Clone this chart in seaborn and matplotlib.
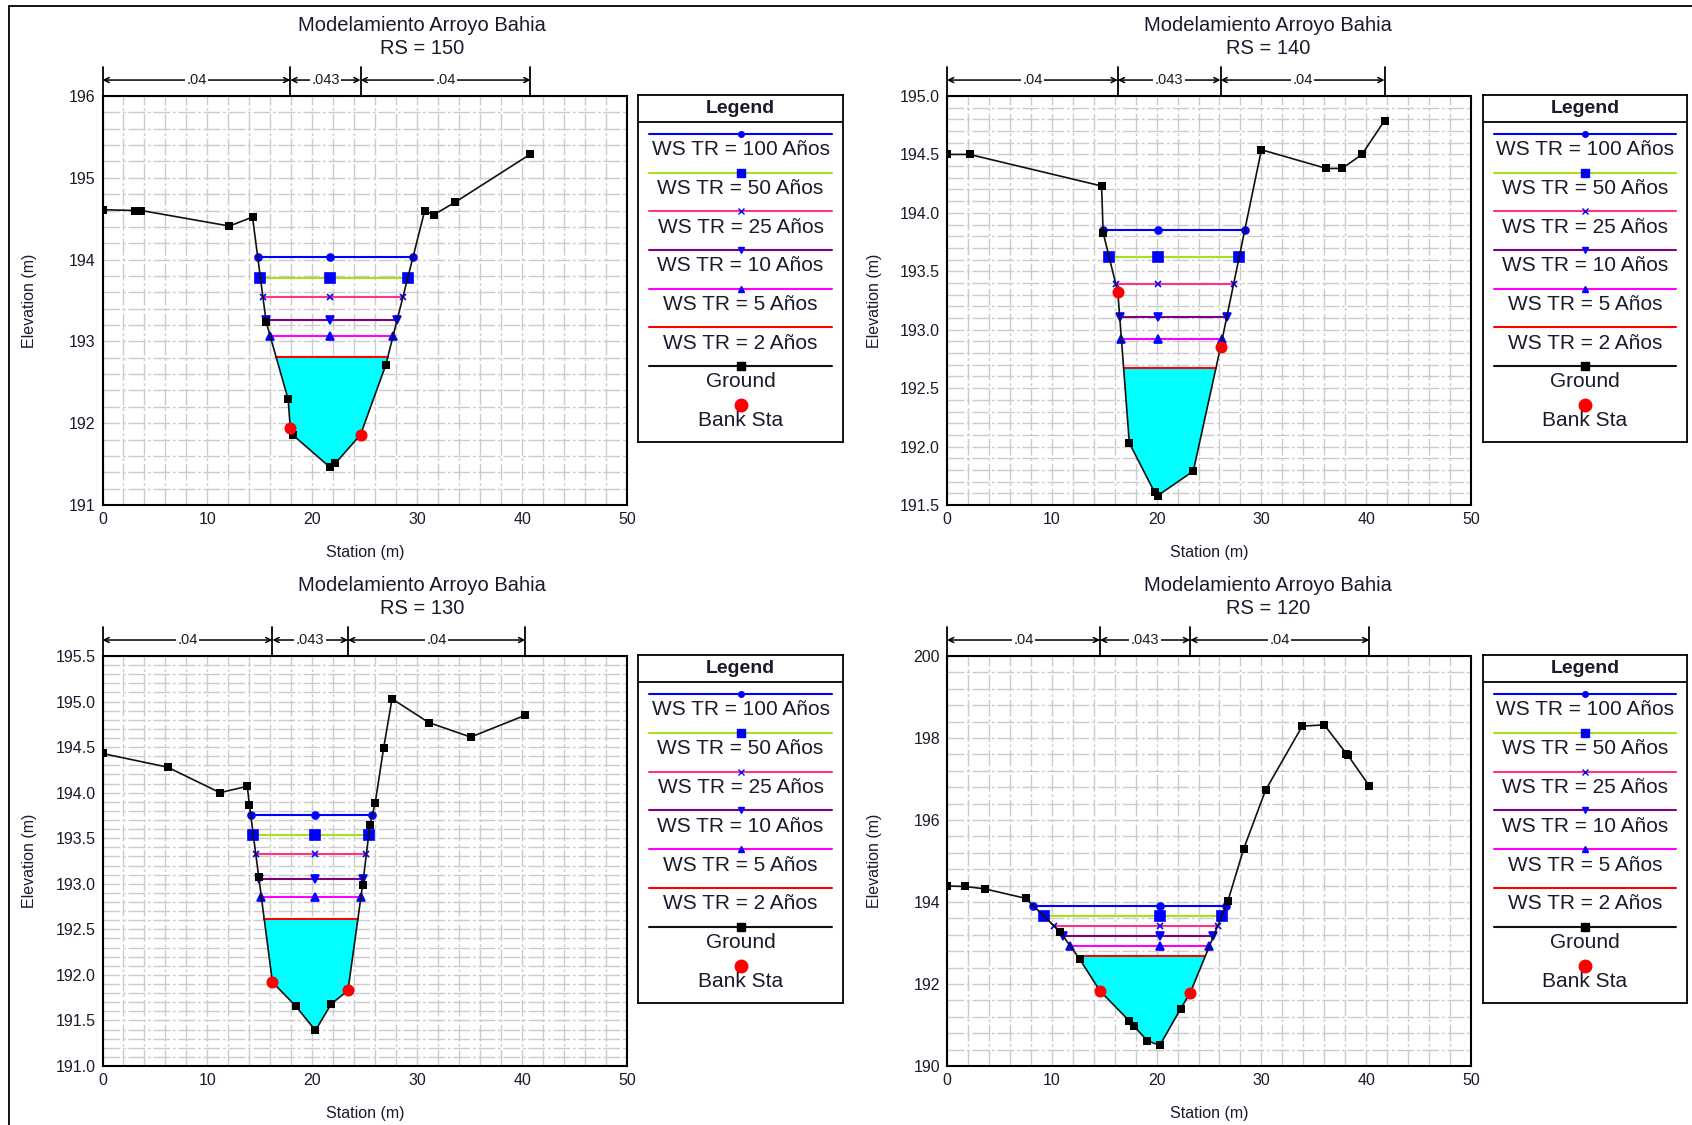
import numpy as np
import matplotlib
matplotlib.use("Agg")
import matplotlib.pyplot as plt
import matplotlib.ticker as mticker
from matplotlib.lines import Line2D
import seaborn as sns

TITLE = "Modelamiento Arroyo Bahia"
RS = [150, 140, 130, 120]
MANNING_N = [".04", ".043", ".04"]

PROFILES = ["WS TR = 100 Años", "WS TR = 50 Años", "WS TR = 25 Años",
            "WS TR = 10 Años", "WS TR = 5 Años", "WS TR = 2 Años"]

# ground points per section (bank stations included)
STA_150 = [0, 3.1, 3.7, 12.1, 14.3, 15.6, 17.7, 17.9, 18.2, 21.7, 22.2, 24.6,
           27.0, 30.7, 31.6, 33.6, 40.8]
ELEV_150 = [194.61, 194.60, 194.60, 194.41, 194.52, 193.24, 192.29, 191.94,
            191.85, 191.46, 191.51, 191.86, 192.71, 194.59, 194.55, 194.70, 195.29]
BANK_STA_150 = [17.9, 24.6]
BANK_ELEV_150 = [191.94, 191.86]
WS_150 = [194.03, 193.78, 193.54, 193.26, 193.06, 192.81]

STA_140 = [0, 2.15, 14.75, 14.9, 16.3, 17.4, 19.8, 20.1, 23.5, 26.1, 30.0,
           36.2, 37.7, 39.6, 41.75]
ELEV_140 = [194.50, 194.50, 194.23, 193.83, 193.32, 192.03, 191.61, 191.58,
            191.79, 192.85, 194.54, 194.38, 194.38, 194.50, 194.79]
BANK_STA_140 = [16.3, 26.1]
BANK_ELEV_140 = [193.32, 192.85]
WS_140 = [193.85, 193.62, 193.39, 193.11, 192.92, 192.67]

STA_130 = [0, 6.2, 11.2, 13.8, 14.0, 14.9, 16.2, 18.4, 20.3, 21.8, 23.4, 24.8,
           25.5, 26.0, 26.8, 27.6, 31.1, 35.1, 40.3]
ELEV_130 = [194.43, 194.28, 194.00, 194.07, 193.87, 193.07, 191.92, 191.66,
            191.39, 191.68, 191.83, 192.99, 193.65, 193.89, 194.49, 195.03,
            194.77, 194.61, 194.85]
BANK_STA_130 = [16.2, 23.4]
BANK_ELEV_130 = [191.92, 191.83]
WS_130 = [193.76, 193.54, 193.33, 193.05, 192.86, 192.61]

STA_120 = [0, 1.7, 3.6, 7.5, 10.8, 12.65, 14.6, 17.4, 17.85, 19.1, 20.3, 22.3,
           23.2, 26.8, 28.3, 30.4, 33.9, 36.0, 38.1, 38.25, 40.3]
ELEV_120 = [194.39, 194.38, 194.32, 194.09, 193.27, 192.61, 191.83, 191.10,
            190.97, 190.62, 190.50, 191.40, 191.78, 194.02, 195.29, 196.73,
            198.29, 198.32, 197.62, 197.58, 196.83]
BANK_STA_120 = [14.6, 23.2]
BANK_ELEV_120 = [191.83, 191.78]
WS_120 = [193.91, 193.65, 193.42, 193.16, 192.92, 192.69]

# y axis ranges and label step of each section
Y_RANGE = [(191, 196, 1), (191.5, 195.0, 0.5), (191.0, 195.5, 0.5), (190, 200, 2)]

SECTIONS = [
    (STA_150, ELEV_150, BANK_STA_150, BANK_ELEV_150, WS_150),
    (STA_140, ELEV_140, BANK_STA_140, BANK_ELEV_140, WS_140),
    (STA_130, ELEV_130, BANK_STA_130, BANK_ELEV_130, WS_130),
    (STA_120, ELEV_120, BANK_STA_120, BANK_ELEV_120, WS_120),
]

WS_COLORS = ["#0000ff", "#a8e020", "#ff3388", "#800080", "#ff00ff", "#ff0000"]
WS_MARKERS = ["o", "s", "x", "v", "^", None]
WS_MSIZE = [5, 7, 5, 6, 6, 0]
MARK_BLUE = "#0000ff"
TXT = "#1a1a2a"

sns.set_style("white")
plt.rcParams["font.family"] = ["Liberation Sans", "DejaVu Sans"]

W, H = 1692, 1125
fig = plt.figure(figsize=(W / 100, H / 100), dpi=100)


def px_axes(left, top, right, bottom):
    return fig.add_axes([left / W, 1 - bottom / H, (right - left) / W, (bottom - top) / H])


def crossings(sta, elev, level):
    sta = np.asarray(sta, float)
    elev = np.asarray(elev, float)
    imin = int(np.argmin(elev))
    i = imin
    while elev[i] < level:
        i -= 1
    xl = np.interp(level, [elev[i + 1], elev[i]], [sta[i + 1], sta[i]])
    j = imin
    while elev[j] < level:
        j += 1
    xr = np.interp(level, [elev[j - 1], elev[j]], [sta[j - 1], sta[j]])
    return xl, xr, i, j, sta[imin]


AX_BOX = [(102.5, 96, 627, 505), (947, 96, 1471, 505),
          (102.5, 656, 627, 1066), (947, 656, 1471, 1066)]
LEG_BOX = [(638, 95, 843, 442), (1483, 95, 1687, 442),
           (638, 655, 843, 1003), (1483, 655, 1687, 1003)]
TITLE_POS = [(422, 37), (1268, 37), (422, 597), (1268, 597)]

grid_ls = (0, (12, 2, 2, 2))

for k, (sta, elev, bsta, belev, ws) in enumerate(SECTIONS):
    ax = px_axes(*AX_BOX[k])
    y0, y1, ystep = Y_RANGE[k]

    # water fill for the lowest profile
    xl, xr, i, j, thalweg = crossings(sta, elev, ws[-1])
    poly_x = [xl] + list(sta[i + 1:j]) + [xr]
    poly_y = [ws[-1]] + list(elev[i + 1:j]) + [ws[-1]]
    ax.fill(poly_x, poly_y, color="#00ffff", lw=0, zorder=2)

    for p in range(len(PROFILES)):
        xl, xr, _, _, thalweg = crossings(sta, elev, ws[p])
        xs = [xl, thalweg, xr]
        ys = [ws[p]] * 3
        sns.lineplot(x=xs, y=ys, ax=ax, color=WS_COLORS[p], lw=1.5, sort=False,
                     estimator=None, zorder=3)
        if WS_MARKERS[p]:
            ax.plot(xs, ys, ls="none", marker=WS_MARKERS[p], ms=WS_MSIZE[p],
                    color=MARK_BLUE, mew=1.2, zorder=4)

    sns.lineplot(x=sta, y=elev, ax=ax, color="#111111", lw=1.2, sort=False,
                 estimator=None, marker="s", markersize=6, markeredgewidth=0,
                 markerfacecolor="black", zorder=5)
    sns.scatterplot(x=bsta, y=belev, ax=ax, color="#ff0000", s=75, linewidth=0,
                    zorder=6)

    ax.set_xlim(0, 50)
    ax.set_ylim(y0, y1)
    ax.xaxis.set_major_locator(mticker.MultipleLocator(10))
    ax.xaxis.set_minor_locator(mticker.MultipleLocator(2))
    ax.yaxis.set_major_locator(mticker.MultipleLocator(ystep))
    ax.yaxis.set_minor_locator(mticker.MultipleLocator(ystep / 5))
    fmt = "%.0f" if ystep >= 1 else "%.1f"
    ax.yaxis.set_major_formatter(mticker.FormatStrFormatter(fmt))
    ax.grid(which="both", color="#cbcbcb", ls=grid_ls, lw=1.0, zorder=0)
    ax.set_axisbelow(True)
    ax.tick_params(which="both", direction="out", length=4, width=1,
                   colors="black", labelcolor=TXT, labelsize=11.5, pad=1)
    for s in ax.spines.values():
        s.set_color("black")
        s.set_linewidth(1.5)

    ax.set_xlabel("Station (m)", fontsize=11.5, color=TXT)
    ax.set_ylabel("Elevation (m)", fontsize=11.5, color=TXT)
    ax.xaxis.set_label_coords(0.5, -0.098)
    ax.yaxis.set_label_coords(-0.125, 0.5)

    # manning n bracket above the plot
    trans = ax.get_xaxis_transform()
    bounds = [sta[0], bsta[0], bsta[1], sta[-1]]
    for b in bounds:
        ax.plot([b, b], [1.0, 1.071], transform=trans, color="black", lw=1.3,
                clip_on=False)
    for n, (b0, b1) in enumerate(zip(bounds[:-1], bounds[1:])):
        ax.annotate("", xy=(b0, 1.039), xytext=(b1, 1.039), xycoords=trans,
                    textcoords=trans,
                    arrowprops=dict(arrowstyle="<->", lw=1.1, color="black",
                                    shrinkA=0, shrinkB=0, mutation_scale=9))
        ax.text((b0 + b1) / 2, 1.039, MANNING_N[n], transform=trans, ha="center",
                va="center", fontsize=10.5, color=TXT,
                bbox=dict(facecolor="white", edgecolor="none", pad=1.0))

    tx, ty = TITLE_POS[k]
    fig.text(tx / W, 1 - ty / H, f"{TITLE}\nRS = {RS[k]}", ha="center",
             va="center", fontsize=14.5, color=TXT, linespacing=1.3)

    # legend panel
    lax = px_axes(*LEG_BOX[k])
    lax.set_xlim(0, 1)
    lax.set_ylim(0, 1)
    lax.set_xticks([])
    lax.set_yticks([])
    for s in lax.spines.values():
        s.set_color("black")
        s.set_linewidth(1.3)
    lax.axhline(0.922, color="black", lw=1.3)
    lax.text(0.5, 0.962, "Legend", ha="center", va="center", fontsize=14,
             fontweight="bold", color=TXT)
    labels = PROFILES + ["Ground", "Bank Sta"]
    for e, lab in enumerate(labels):
        ly = 1 - (0.112 + e * 0.1115)
        ty_ = 1 - (0.158 + e * 0.1115)
        if e < len(PROFILES):
            lax.plot([0.053, 0.947], [ly, ly], color=WS_COLORS[e], lw=1.5)
            if WS_MARKERS[e]:
                lax.plot([0.5], [ly], marker=WS_MARKERS[e], ms=WS_MSIZE[e] - 1,
                         color=MARK_BLUE, ls="none")
        elif lab == "Ground":
            lax.plot([0.053, 0.947], [ly, ly], color="#111111", lw=1.5)
            lax.plot([0.5], [ly], marker="s", ms=6, color="black", ls="none")
        else:
            lax.plot([0.5], [ly], marker="o", ms=9, color="#ff0000", ls="none")
        lax.text(0.5, ty_, lab, ha="center", va="center", fontsize=15, color=TXT)

# outer frame of the page
fig.add_artist(Line2D([9 / W, 9 / W], [0, 1 - 5.5 / H], transform=fig.transFigure,
                      color="black", lw=1.3))
fig.add_artist(Line2D([9 / W, 1], [1 - 5.5 / H, 1 - 5.5 / H],
                      transform=fig.transFigure, color="black", lw=1.3))

fig.savefig("out.png", dpi=100, facecolor="white")
